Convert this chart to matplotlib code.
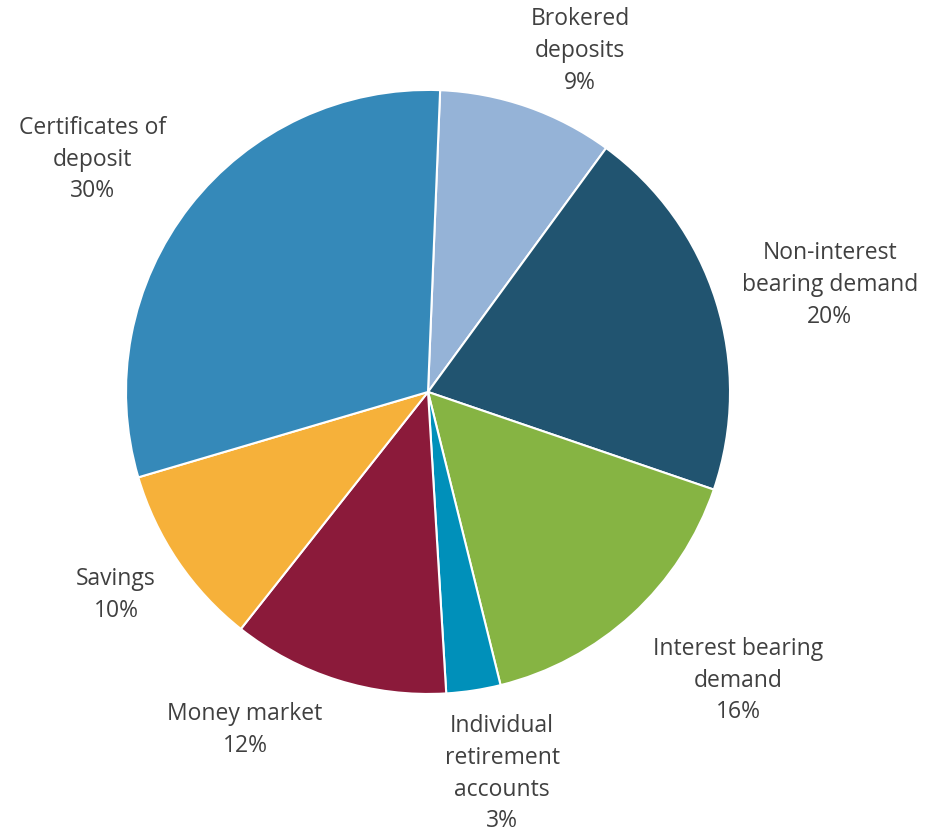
import matplotlib.pyplot as plt
import numpy as np

# categories, clockwise from the top
categories = ["Brokered\ndeposits", "Non-interest\nbearing demand", "Interest bearing\ndemand",
              "Individual\nretirement\naccounts", "Money market", "Savings", "Certificates of\ndeposit"]
shares = [9.4, 20.2, 15.9, 2.9, 11.6, 9.8, 30.2]
pct_labels = ["9%", "20%", "16%", "3%", "12%", "10%", "30%"]
colors = ["#95B3D7", "#215470", "#86B443", "#0090BA", "#8B1A3A", "#F6B13A", "#3589B9"]

# label distance from centre (radius units) and angle nudges (deg)
label_r = [1.236, 1.377, 1.403, 1.288, 1.273, 1.232, 1.352]
label_da = [-4.8, -2.6, 4.5, 2.3, -11.0, -1.0, 3.3]

fig = plt.figure(figsize=(9.41, 8.35), dpi=100)
ax = fig.add_axes([0.1339, 0.1689, 0.6419, 0.7234])

wedges, _ = ax.pie(shares, colors=colors, startangle=90 - 2.3, counterclock=False,
                   wedgeprops=dict(edgecolor="white", linewidth=1.5))
ax.set_aspect("equal")

for w, cat, pct, r, da in zip(wedges, categories, pct_labels, label_r, label_da):
    mid = np.deg2rad((w.theta1 + w.theta2) / 2 + da)
    ax.text(r * np.cos(mid), r * np.sin(mid), cat + "\n" + pct, ha="center", va="center",
            fontsize=16.5, color="#404040", family="Open Sans", linespacing=1.42)

ax.set_xlim(-1, 1)
ax.set_ylim(-1, 1)
fig.savefig("out.png")
